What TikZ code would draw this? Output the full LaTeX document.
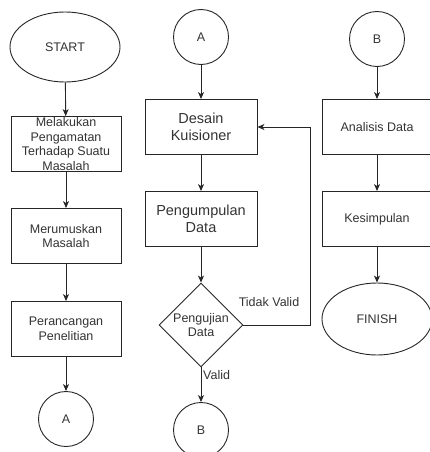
\documentclass[tikz,border=0pt]{standalone}
\usepackage{fontspec}
\setmainfont{Liberation Sans}
\usetikzlibrary{shapes.geometric,arrows.meta}
\begin{document}
\begin{tikzpicture}[x=1pt,y=-1pt,
  every node/.style={font=\fontsize{12.5}{14.6}\selectfont, text=black!80},
  stroke/.style={draw=black!85, line width=0.9pt},
  procbox/.style={stroke, rectangle, minimum width=110pt, minimum height=55pt, inner sep=0pt, align=center},
  bigtext/.style={font=\fontsize{14.5}{17.4}\selectfont},
  terminal/.style={stroke, ellipse, minimum width=110pt, minimum height=70pt, inner sep=0pt},
  connector/.style={stroke, circle, minimum size=55pt, inner sep=0pt},
  decision/.style={stroke, diamond, aspect=1, minimum width=84pt, minimum height=84pt, inner sep=0pt, align=center},
  arr/.style={stroke, -{Stealth[length=7pt,width=6pt,inset=2pt]}},
  lbl/.style={inner sep=0pt}
]
\useasboundingbox (0,0) rectangle (430,452);

% column 1
\node[terminal] (start) at (65,47) {START};
\node[procbox] (b1) at (66,144) {Melakukan\\Pengamatan\\Terhadap Suatu\\Masalah};
\node[procbox] (b2) at (66,236) {Merumuskan\\Masalah};
\node[procbox] (b3) at (66,329) {Perancangan\\Penelitian};
\node[connector] (a1) at (66,419) {A};

% column 2
\node[connector] (a2) at (201,37) {A};
\node[procbox, bigtext, minimum width=112pt] (d1) at (201,127) {Desain\\Kuisioner};
\node[procbox, bigtext, minimum width=112pt] (d2) at (201,219) {Pengumpulan\\Data};
\node[decision] (dia) at (201,325) {Pengujian\\Data};
\node[connector] (b2c) at (201,430) {B};
\coordinate (lp1) at (310,325);
\coordinate (lp2) at (310,127);
\node[lbl] (tv) at (269,302) {Tidak Valid};
\node[lbl, anchor=west] (vl) at (203,375) {Valid};

% column 3
\node[connector] (b3c) at (377,39) {B};
\node[procbox] (c1) at (377,127) {Analisis Data};
\node[procbox] (c2) at (377,219) {Kesimpulan};
\node[terminal, minimum height=72pt] (finish) at (377,319) {FINISH};

% connectors
\draw[arr] (start) -- (b1);
\draw[arr] (b1) -- (b2);
\draw[arr] (b2) -- (b3);
\draw[arr] (b3) -- (a1);
\draw[arr] (a2) -- (d1);
\draw[arr] (d1) -- (d2);
\draw[arr] (d2) -- (dia);
\draw[arr] (dia) -- (b2c);
\draw[arr] (dia.east) -- (lp1) -- (lp2) -- (d1.east);
\draw[arr] (b3c) -- (c1);
\draw[arr] (c1) -- (c2);
\draw[arr] (c2) -- (finish);
\end{tikzpicture}
\end{document}
